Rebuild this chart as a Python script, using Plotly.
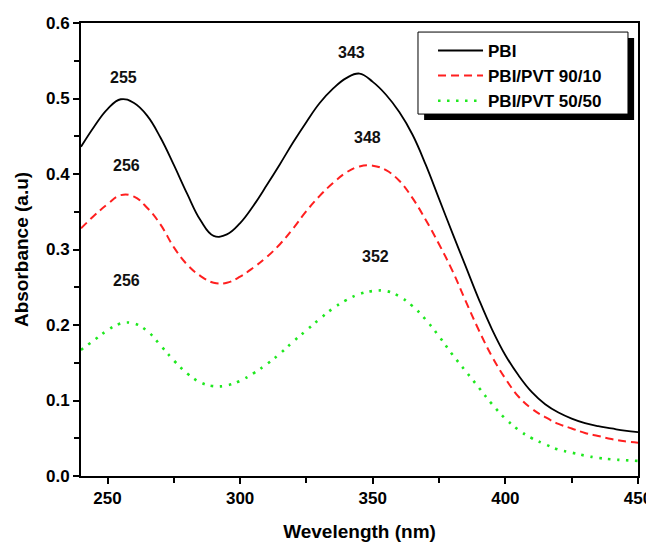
import plotly.graph_objects as go

wavelength = [240, 245, 250, 255, 260, 265, 270, 275, 280, 285, 290, 295, 300, 305, 310,
              315, 320, 325, 330, 335, 340, 345, 350, 355, 360, 365, 370, 375, 380, 385,
              390, 395, 400, 405, 410, 415, 420, 425, 430, 435, 440, 445, 450]

pbi = [0.436, 0.463, 0.486, 0.499, 0.494, 0.477, 0.448, 0.412, 0.374, 0.339, 0.318, 0.320, 0.335,
       0.358, 0.385, 0.413, 0.442, 0.469, 0.494, 0.513, 0.527, 0.533, 0.522, 0.505, 0.482,
       0.452, 0.412, 0.367, 0.322, 0.278, 0.234, 0.194, 0.160, 0.133, 0.111, 0.095, 0.084,
       0.076, 0.070, 0.066, 0.063, 0.060, 0.058]

pbi_pvt_90_10 = [0.328, 0.345, 0.360, 0.372, 0.370, 0.355, 0.333, 0.303, 0.280, 0.265, 0.256,
                 0.256, 0.264, 0.276, 0.290, 0.307, 0.328, 0.351, 0.371, 0.388, 0.402, 0.410,
                 0.411, 0.405, 0.391, 0.368, 0.339, 0.307, 0.272, 0.232, 0.193, 0.158, 0.129,
                 0.105, 0.089, 0.078, 0.069, 0.063, 0.057, 0.053, 0.049, 0.046, 0.044]

pbi_pvt_50_50 = [0.167, 0.180, 0.193, 0.202, 0.202, 0.192, 0.173, 0.153, 0.136, 0.124, 0.119,
                 0.120, 0.126, 0.136, 0.148, 0.162, 0.178, 0.193, 0.208, 0.222, 0.233, 0.241,
                 0.245, 0.245, 0.238, 0.225, 0.207, 0.185, 0.161, 0.139, 0.117, 0.095, 0.076,
                 0.061, 0.050, 0.042, 0.035, 0.031, 0.027, 0.024, 0.022, 0.021, 0.020]

peak_labels = ["255", "256", "256", "343", "348", "352"]
peak_label_x = [256, 257, 257, 342, 348, 351]
peak_label_y = [0.528, 0.411, 0.259, 0.561, 0.449, 0.291]

series_names = ["PBI", "PBI/PVT 90/10", "PBI/PVT 50/50"]

FONT = "Liberation Sans, Arial, sans-serif"

fig = go.Figure()
fig.add_trace(go.Scatter(x=wavelength, y=pbi, name=series_names[0], mode="lines",
                         line=dict(color="black", width=1.8, shape="spline", smoothing=1.2)))
fig.add_trace(go.Scatter(x=wavelength, y=pbi_pvt_90_10, name=series_names[1], mode="lines",
                         line=dict(color="#ff1f1f", width=2, dash="8px,5px", shape="spline",
                                   smoothing=1.2)))
fig.add_trace(go.Scatter(x=wavelength, y=pbi_pvt_50_50, name=series_names[2], mode="lines",
                         line=dict(color="#1fe81f", width=2.6, dash="2.5px,6.5px", shape="spline",
                                   smoothing=1.2)))

for t, x, y in zip(peak_labels, peak_label_x, peak_label_y):
    fig.add_annotation(x=x, y=y, text=t, showarrow=False,
                       font=dict(family=FONT, size=16, color="#111", weight="bold"))

# legend frame with drop shadow (paper coordinates)
fig.add_shape(type="rect", xref="paper", yref="paper", x0=0.616, x1=0.993, y0=0.786, y1=0.967,
              fillcolor="black", line=dict(width=0), layer="above")
fig.add_shape(type="rect", xref="paper", yref="paper", x0=0.605, x1=0.982, y0=0.799, y1=0.980,
              fillcolor="white", line=dict(color="black", width=1), layer="above")

axis_common = dict(
    showline=True, linecolor="black", linewidth=2, mirror=True,
    ticks="outside", ticklen=6, tickwidth=2, tickcolor="black",
    showgrid=False, zeroline=False, automargin=False,
    tickfont=dict(family=FONT, size=17, color="black", weight="bold"),
)

fig.update_xaxes(range=[240, 450], tickvals=[250, 300, 350, 400, 450],
                 minor=dict(ticks="outside", tickvals=[275, 325, 375, 425], ticklen=5,
                            tickwidth=2, tickcolor="black"),
                 title=dict(text="Wevelength (nm)", standoff=22,
                            font=dict(family=FONT, size=19, color="black", weight="bold")),
                 **axis_common)
fig.update_yaxes(range=[0, 0.6], tickvals=[0, 0.1, 0.2, 0.3, 0.4, 0.5, 0.6], tickformat=".1f",
                 minor=dict(ticks="outside", tickvals=[0.05, 0.15, 0.25, 0.35, 0.45, 0.55],
                            ticklen=5, tickwidth=2, tickcolor="black"),
                 title=dict(text="Absorbance (a.u)", standoff=12,
                            font=dict(family=FONT, size=19, color="black", weight="bold")),
                 **axis_common)

# the page places the figure 8px in from the top-left corner
fig.update_layout(
    width=646, height=534,
    margin=dict(l=73, r=16, t=15, b=66),
    plot_bgcolor="white", paper_bgcolor="white",
    showlegend=True,
    legend=dict(x=0.632, y=0.978, xanchor="left", yanchor="top",
                bgcolor="rgba(0,0,0,0)", borderwidth=0,
                font=dict(family=FONT, size=17, color="black", weight="bold"),
                itemwidth=45, tracegroupgap=0),
)

fig.write_html("out.html")
